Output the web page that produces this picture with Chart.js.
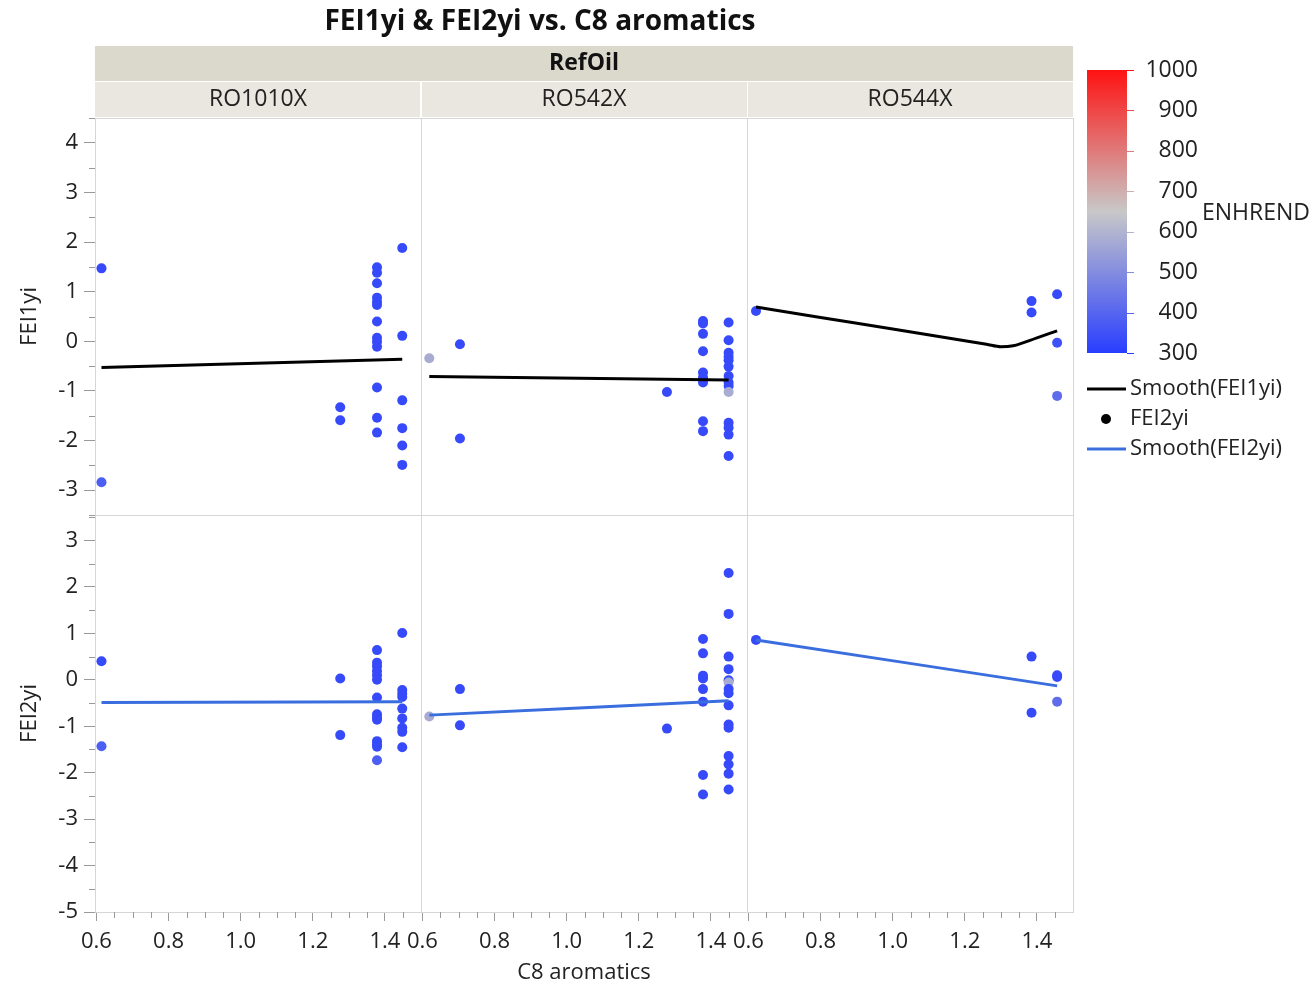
<!DOCTYPE html>
<html><head><meta charset="utf-8">
<script src="https://cdn.jsdelivr.net/npm/chart.js@4"></script>
<style>html,body{margin:0;padding:0;background:#fff;}#wrap{width:1316px;height:988px;position:relative;}</style>
</head><body><div id="wrap"><canvas id="c" width="1316" height="988"></canvas></div>
<script>
// ---------- categories / labels ----------
const chartTitle = 'FEI1yi & FEI2yi vs. C8 aromatics';
const groupTitle = 'RefOil';
const panelNames = ['RO1010X', 'RO542X', 'RO544X'];
const xTitle = 'C8 aromatics';
const yTitles = ['FEI1yi', 'FEI2yi'];
const colorTitle = 'ENHREND';

// ---------- tick labels ----------
const xMajorTicks = [0.6, 0.8, 1.0, 1.2, 1.4];
const xMinorTicks = [0.65, 0.7, 0.75, 0.85, 0.9, 0.95, 1.05, 1.1, 1.15, 1.25, 1.3, 1.35, 1.45];
const yTopTicks = [-3, -2, -1, 0, 1, 2, 3, 4];
const yTopMinor = [-3.5, -2.5, -1.5, -0.5, 0.5, 1.5, 2.5, 3.5, 4.5];
const yBotTicks = [-5, -4, -3, -2, -1, 0, 1, 2, 3];
const yBotMinor = [-4.5, -3.5, -2.5, -1.5, -0.5, 0.5, 1.5, 2.5, 3.5];
const colorTicks = [300, 400, 500, 600, 700, 800, 900, 1000];

// ---------- RO1010X ----------
const x1010_fei1 = [0.614, 0.614, 1.276, 1.276, 1.378, 1.378, 1.378, 1.378, 1.378, 1.378, 1.378, 1.378, 1.378, 1.378, 1.378, 1.378, 1.378, 1.448, 1.448, 1.448, 1.448, 1.448, 1.448];
const y1010_fei1 = [1.47, -2.84, -1.33, -1.59, 1.49, 1.38, 1.17, 0.88, 0.79, 0.73, 0.40, 0.07, -0.01, -0.11, -0.93, -1.54, -1.84, 1.88, 0.11, -1.19, -1.75, -2.10, -2.49];
const e1010_fei1 = [330, 380, 330, 330, 330, 330, 330, 330, 330, 330, 330, 330, 330, 330, 330, 330, 330, 330, 330, 330, 330, 330, 330];
const x1010_fei2 = [0.614, 0.614, 1.276, 1.276, 1.378, 1.378, 1.378, 1.378, 1.378, 1.378, 1.378, 1.378, 1.378, 1.378, 1.378, 1.378, 1.378, 1.378, 1.448, 1.448, 1.448, 1.448, 1.448, 1.448, 1.448, 1.448, 1.448];
const y1010_fei2 = [0.40, -1.43, 0.03, -1.19, 0.64, 0.37, 0.29, 0.19, 0.10, 0.00, -0.38, -0.74, -0.81, -0.86, -1.32, -1.39, -1.44, -1.73, 1.01, -0.22, -0.30, -0.37, -0.62, -0.83, -1.03, -1.12, -1.45];
const e1010_fei2 = [330, 380, 330, 330, 330, 330, 330, 330, 330, 330, 330, 330, 330, 330, 330, 330, 330, 380, 330, 330, 330, 330, 330, 330, 330, 330, 330];
const x1010_s1 = [0.614, 1.448];
const y1010_s1 = [-0.53, -0.36];
const x1010_s2 = [0.614, 1.448];
const y1010_s2 = [-0.49, -0.47];

// ---------- RO542X ----------
const x542_fei1 = [0.619, 0.704, 0.704, 1.278, 1.378, 1.378, 1.378, 1.378, 1.378, 1.378, 1.378, 1.378, 1.378, 1.449, 1.449, 1.449, 1.449, 1.449, 1.449, 1.449, 1.449, 1.449, 1.449, 1.449, 1.449, 1.449, 1.449];
const y542_fei1 = [-0.34, -0.06, -1.96, -1.02, 0.41, 0.36, 0.15, -0.20, -0.63, -0.73, -0.83, -1.61, -1.81, 0.38, 0.02, -0.23, -0.31, -0.38, -0.51, -0.70, -0.83, -0.90, -1.02, -1.64, -1.74, -1.88, -2.31];
const e542_fei1 = [580, 330, 330, 330, 330, 330, 330, 330, 330, 330, 330, 330, 330, 330, 330, 330, 330, 330, 330, 330, 330, 330, 580, 330, 330, 330, 330];
const x542_fei2 = [0.619, 0.704, 0.704, 1.278, 1.378, 1.378, 1.378, 1.378, 1.378, 1.378, 1.378, 1.378, 1.449, 1.449, 1.449, 1.449, 1.449, 1.449, 1.449, 1.449, 1.449, 1.449, 1.449, 1.449, 1.449, 1.449, 1.449];
const y542_fei2 = [-0.79, -0.20, -0.98, -1.05, 0.88, 0.57, 0.09, 0.03, -0.20, -0.47, -2.05, -2.47, 2.30, 1.42, 0.50, 0.23, -0.01, -0.06, -0.20, -0.29, -0.55, -0.96, -1.03, -1.64, -1.82, -2.02, -2.36];
const e542_fei2 = [580, 330, 330, 330, 330, 330, 330, 330, 330, 330, 330, 330, 330, 330, 330, 330, 330, 580, 330, 330, 330, 330, 330, 330, 330, 330, 330];
const x542_s1 = [0.619, 1.449];
const y542_s1 = [-0.71, -0.78];
const x542_s2 = [0.619, 1.449];
const y542_s2 = [-0.76, -0.45];

// ---------- RO544X ----------
const x544_fei1 = [0.621, 1.385, 1.385, 1.456, 1.456, 1.456];
const y544_fei1 = [0.61, 0.81, 0.58, 0.95, -0.03, -1.10];
const e544_fei1 = [330, 330, 330, 330, 350, 420];
const x544_fei2 = [0.621, 1.385, 1.385, 1.456, 1.456, 1.456];
const y544_fei2 = [0.86, 0.50, -0.71, 0.10, 0.06, -0.47];
const e544_fei2 = [330, 330, 330, 330, 330, 420];
const x544_s1 = [0.621, 0.8, 1.0, 1.2, 1.26, 1.3, 1.334, 1.4, 1.456];
const y544_s1 = [0.69, 0.48, 0.25, 0.01, -0.06, -0.11, -0.09, 0.07, 0.21];
const x544_s2 = [0.621, 1.456];
const y544_s2 = [0.86, -0.13];

// ---------- styling ----------
const FONT = "'Open Sans', 'Noto Sans', sans-serif";
const BLUE_LINE = 'rgb(58,110,222)';
const AXIS_GRAY = '#9a9a9a';

function enhColor(v) {
  const t = Math.max(0, Math.min(1, (v - 300) / 700));
  const lo = [40, 62, 255], mid = [200, 200, 200], hi = [255, 18, 18];
  let a, b, f;
  if (t < 0.5) { a = lo; b = mid; f = t / 0.5; } else { a = mid; b = hi; f = (t - 0.5) / 0.5; }
  return 'rgb(' + a.map((c, i) => Math.round(c + (b[i] - c) * f)).join(',') + ')';
}
const pts = (xs, ys) => xs.map((x, i) => ({ x: x, y: ys[i] }));

function pointSet(xs, ys, es, xId, yId) {
  return { type: 'scatter', data: pts(xs, ys), xAxisID: xId, yAxisID: yId, order: 2,
    pointRadius: 5, pointBorderWidth: 0, pointBackgroundColor: es.map(enhColor), showLine: false };
}
function lineSet(xs, ys, color, xId, yId) {
  return { type: 'line', data: pts(xs, ys), xAxisID: xId, yAxisID: yId, order: 1,
    borderColor: color, borderWidth: 3, pointRadius: 0, fill: false, cubicInterpolationMode: 'monotone' };
}

const datasets = [
  lineSet(x1010_s1, y1010_s1, '#000', 'x1', 'yTop'),
  lineSet(x1010_s2, y1010_s2, BLUE_LINE, 'x1', 'yBot'),
  lineSet(x542_s1, y542_s1, '#000', 'x2', 'yTop'),
  lineSet(x542_s2, y542_s2, BLUE_LINE, 'x2', 'yBot'),
  lineSet(x544_s1, y544_s1, '#000', 'x3', 'yTop'),
  lineSet(x544_s2, y544_s2, BLUE_LINE, 'x3', 'yBot'),
  pointSet(x1010_fei1, y1010_fei1, e1010_fei1, 'x1', 'yTop'),
  pointSet(x1010_fei2, y1010_fei2, e1010_fei2, 'x1', 'yBot'),
  pointSet(x542_fei1, y542_fei1, e542_fei1, 'x2', 'yTop'),
  pointSet(x542_fei2, y542_fei2, e542_fei2, 'x2', 'yBot'),
  pointSet(x544_fei1, y544_fei1, e544_fei1, 'x3', 'yTop'),
  pointSet(x544_fei2, y544_fei2, e544_fei2, 'x3', 'yBot')
];

function xScale(withTitle) {
  return {
    type: 'linear', position: 'bottom', stack: 'cols', stackWeight: 1,
    min: 0.596, max: 1.5,
    afterBuildTicks: s => { s.ticks = xMajorTicks.map(v => ({ value: v })); },
    afterFit: s => { s.height = 76; },
    grid: { drawOnChartArea: false, drawTicks: true, tickLength: 9, color: AXIS_GRAY },
    border: { display: true, color: AXIS_GRAY },
    ticks: { autoSkip: false, maxRotation: 0, minRotation: 0, padding: 8, color: '#222',
      font: { family: FONT, size: 22 }, callback: v => Number(v).toFixed(1) },
    title: { display: withTitle, text: xTitle, color: '#222', font: { family: FONT, size: 22 }, padding: { top: 0, bottom: 2 } }
  };
}
function yScale(min, max, ticks, title) {
  return {
    type: 'linear', position: 'left', stack: 'rows', stackWeight: 1,
    min: min, max: max,
    afterBuildTicks: s => { s.ticks = ticks.map(v => ({ value: v })); },
    afterFit: s => { s.width = 95; },
    grid: { drawOnChartArea: false, drawTicks: true, tickLength: 11, color: AXIS_GRAY },
    border: { display: true, color: AXIS_GRAY },
    ticks: { autoSkip: false, padding: 6, color: '#222', font: { family: FONT, size: 22 }, callback: v => String(v) },
    title: { display: true, text: title, color: '#222', font: { family: FONT, size: 22 }, padding: { top: 17, bottom: 0 } }
  };
}

const deco = {
  id: 'deco',
  beforeDatasetsDraw(chart) {
    const c = chart.ctx;
    const xs = ['x1', 'x2', 'x3'].map(k => chart.scales[k]);
    const ys = ['yTop', 'yBot'].map(k => chart.scales[k]);
    c.save();
    c.strokeStyle = '#d6d6d6';
    c.lineWidth = 1;
    xs.forEach(x => ys.forEach(y => {
      c.strokeRect(Math.round(x.left) + 0.5, Math.round(y.top) + 0.5, Math.round(x.right - x.left), Math.round(y.bottom - y.top));
    }));
    c.restore();
  },
  afterDraw(chart) {
    const c = chart.ctx;
    const xs = ['x1', 'x2', 'x3'].map(k => chart.scales[k]);
    const yT = chart.scales.yTop, yB = chart.scales.yBot;
    c.save();
    // minor ticks
    c.strokeStyle = AXIS_GRAY; c.lineWidth = 1;
    [[yT, yTopMinor], [yB, yBotMinor]].forEach(([s, arr]) => arr.forEach(v => {
      const p = Math.round(s.getPixelForValue(v)) + 0.5;
      c.beginPath(); c.moveTo(s.right - 6, p); c.lineTo(s.right, p); c.stroke();
    }));
    xs.forEach(s => xMinorTicks.forEach(v => {
      const p = Math.round(s.getPixelForValue(v)) + 0.5;
      c.beginPath(); c.moveTo(p, s.top); c.lineTo(p, s.top + 6); c.stroke();
    }));
    // title
    c.fillStyle = '#111';
    c.font = 'bold 28px ' + FONT;
    c.textAlign = 'center'; c.textBaseline = 'middle';
    c.fillText(chartTitle, 540, 22);
    // group header
    const L = xs[0].left, R = xs[2].right;
    c.fillStyle = '#dbd8cc';
    c.fillRect(L, 46, R - L, 35);
    c.fillStyle = '#111';
    c.font = 'bold 23px ' + FONT;
    c.fillText(groupTitle, (L + R) / 2, 63);
    xs.forEach((s, i) => {
      c.fillStyle = '#e9e7df';
      c.fillRect(s.left + (i ? 1 : 0), 82, s.right - s.left - 1, 35);
      c.fillStyle = '#222';
      c.font = '23px ' + FONT;
      c.fillText(panelNames[i], (s.left + s.right) / 2, 99);
    });
    // color bar
    const bx = 1087, bw = 40, bt = 70, bb = 353;
    const g = c.createLinearGradient(0, bt, 0, bb);
    g.addColorStop(0, enhColor(1000));
    g.addColorStop(0.5, enhColor(650));
    g.addColorStop(1, enhColor(300));
    c.fillStyle = g;
    c.fillRect(bx, bt, bw, bb - bt);
    c.font = '23px ' + FONT;
    c.textAlign = 'right';
    colorTicks.forEach(v => {
      const y = bb - (v - 300) / 700 * (bb - bt);
      c.strokeStyle = enhColor(v);
      c.lineWidth = 1;
      c.beginPath(); c.moveTo(bx + bw, Math.round(y) + 0.5); c.lineTo(bx + bw + 7, Math.round(y) + 0.5); c.stroke();
      c.fillStyle = '#222';
      c.fillText(String(v), 1198, y);
    });
    c.textAlign = 'left';
    c.fillText(colorTitle, 1202, 213);
    // legend
    c.font = '22px ' + FONT;
    c.lineWidth = 3;
    c.strokeStyle = '#000';
    c.beginPath(); c.moveTo(1087, 389); c.lineTo(1126, 389); c.stroke();
    c.fillStyle = '#222';
    c.fillText('Smooth(FEI1yi)', 1130, 389);
    c.fillStyle = '#000';
    c.beginPath(); c.arc(1106, 419, 5, 0, Math.PI * 2); c.fill();
    c.fillStyle = '#222';
    c.fillText('FEI2yi', 1130, 419);
    c.strokeStyle = BLUE_LINE;
    c.beginPath(); c.moveTo(1087, 449); c.lineTo(1126, 449); c.stroke();
    c.fillText('Smooth(FEI2yi)', 1130, 449);
    c.restore();
  }
};

new Chart(document.getElementById('c'), {
  data: { datasets: datasets },
  options: {
    responsive: false, animation: false, events: [],
    layout: { padding: { top: 118, right: 243, bottom: 0, left: 0 } },
    plugins: { legend: { display: false }, tooltip: { enabled: false } },
    scales: {
      x1: xScale(false), x2: xScale(true), x3: xScale(false),
      yBot: yScale(-5, 3.55, yBotTicks, yTitles[1]),
      yTop: yScale(-3.5, 4.5, yTopTicks, yTitles[0])
    }
  },
  plugins: [deco]
});
</script></body></html>
